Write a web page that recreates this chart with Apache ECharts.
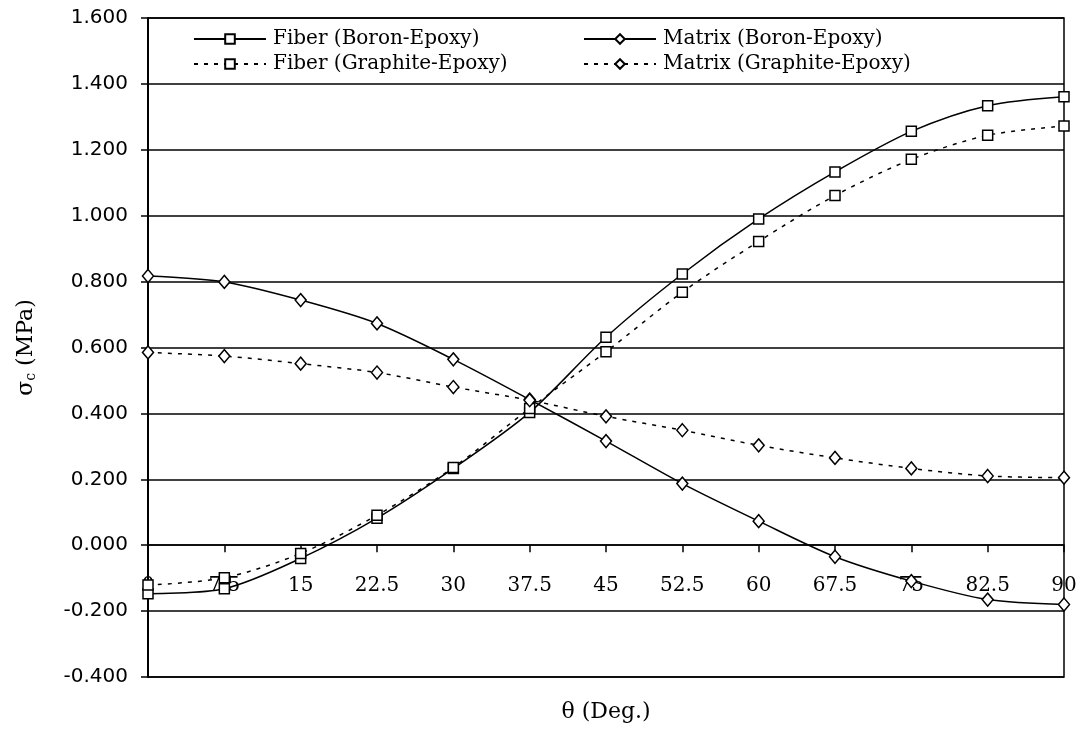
<!DOCTYPE html>
<html>
<head>
<meta charset="utf-8">
<script src="https://cdn.jsdelivr.net/npm/echarts@6/dist/echarts.min.js"></script>
<style>
  html, body { margin: 0; padding: 0; background: #fff; }
  #chart { width: 1081px; height: 749px; }
</style>
</head>
<body>
<div id="chart"></div>
<script>
// angle θ (deg)
const theta = [0, 7.5, 15, 22.5, 30, 37.5, 45, 52.5, 60, 67.5, 75, 82.5, 90];
// σc (MPa)
const fiberBoron = [-0.147, -0.132, -0.040, 0.082, 0.233, 0.403, 0.631, 0.823, 0.990, 1.133, 1.256, 1.334, 1.361];
const fiberGraphite = [-0.121, -0.099, -0.025, 0.091, 0.236, 0.415, 0.587, 0.768, 0.922, 1.061, 1.171, 1.244, 1.272];
const matrixBoron = [0.817, 0.799, 0.744, 0.673, 0.564, 0.442, 0.316, 0.187, 0.073, -0.035, -0.109, -0.165, -0.180];
const matrixGraphite = [0.585, 0.574, 0.551, 0.524, 0.480, 0.440, 0.391, 0.349, 0.303, 0.265, 0.233, 0.210, 0.205];
const yTicks = [-0.4, 1.6, 0.2]; // min, max, step

const serif = "DejaVu Serif";
const pairs = (ys) => theta.map((t, i) => [t, ys[i]]);

const gridTop = 18, gridBottom = 72, chartH = 749;
// x axis sits on y = 0, like the original (onZero doesn't kick in here)
const plotH = chartH - gridTop - gridBottom;
const zeroShift = -plotH * (0 - yTicks[0]) / (yTicks[1] - yTicks[0]);

const mkSeries = (name, ys, symbol, dashed) => ({
    name: name,
    type: "line",
    data: pairs(ys),
    smooth: 0.3,
    symbol: symbol,
    symbolSize: symbol === "diamond" ? [11, 13] : 10,
    lineStyle: { color: "#000", width: 1.5, type: dashed ? [4, 6] : "solid" },
    itemStyle: { color: "#fff", borderColor: "#000", borderWidth: 1.5 },
    emphasis: { disabled: true }
});

const legendBase = {
    orient: "vertical", top: 29, padding: 0, itemWidth: 72, itemHeight: 12, itemGap: 5,
    textStyle: { fontFamily: serif, fontSize: 20, color: "#000", padding: [0, 0, 0, 2] }
};

const chart = echarts.init(document.getElementById("chart"));
chart.setOption({
    animation: false,
    backgroundColor: "#fff",
    grid: {
        left: 148, right: 17, top: gridTop, bottom: gridBottom,
        outerBoundsMode: "none", containLabel: false,
        show: true, borderColor: "#000", borderWidth: 1.5
    },
    legend: [
        Object.assign({}, legendBase, { left: 193, data: ["Fiber (Boron-Epoxy)", "Fiber (Graphite-Epoxy)"] }),
        Object.assign({}, legendBase, { left: 583, data: ["Matrix (Boron-Epoxy)", "Matrix (Graphite-Epoxy)"] })
    ],
    xAxis: {
        type: "value",
        min: 0, max: 90, interval: 7.5,
        offset: zeroShift,
        name: "θ (Deg.)",
        nameLocation: "middle",
        nameGap: 156,
        nameTextStyle: { fontFamily: serif, fontSize: 22, color: "#000" },
        axisLine: { onZero: false, lineStyle: { color: "#000", width: 1.5 } },
        axisTick: { show: true, length: 7, lineStyle: { color: "#000", width: 1.5 } },
        axisLabel: {
            margin: 31, fontFamily: serif, fontSize: 20, color: "#000",
            showMinLabel: true, showMaxLabel: true,
            formatter: (v) => String(v)
        },
        splitLine: { show: false }
    },
    yAxis: {
        type: "value",
        min: yTicks[0], max: yTicks[1], interval: yTicks[2],
        name: "σ{s|c} (MPa)",
        nameLocation: "middle",
        nameGap: 110,
        nameTextStyle: {
            fontFamily: serif, fontSize: 22, color: "#000",
            rich: { s: { fontFamily: serif, fontSize: 14, color: "#000", padding: [10, 0, 0, 0] } }
        },
        axisLine: { show: true, onZero: false, lineStyle: { color: "#000", width: 2 } },
        axisTick: { show: true, length: 7, lineStyle: { color: "#000", width: 1.5 } },
        axisLabel: {
            margin: 20, fontFamily: "DejaVu Sans", fontSize: 20, color: "#000",
            formatter: (v) => v.toFixed(3)
        },
        splitLine: { show: true, lineStyle: { color: "#000", width: 1.5 } }
    },
    series: [
        mkSeries("Fiber (Boron-Epoxy)", fiberBoron, "rect", false),
        mkSeries("Matrix (Boron-Epoxy)", matrixBoron, "diamond", false),
        mkSeries("Fiber (Graphite-Epoxy)", fiberGraphite, "rect", true),
        mkSeries("Matrix (Graphite-Epoxy)", matrixGraphite, "diamond", true)
    ]
});
</script>
</body>
</html>
